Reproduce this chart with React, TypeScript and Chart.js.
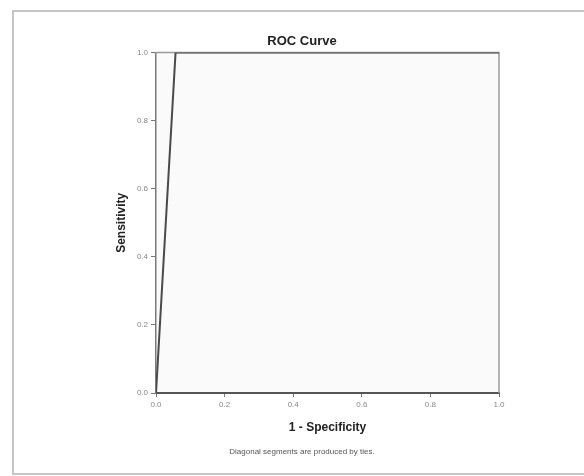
import React, { useEffect, useRef } from "react";
import { Chart, registerables } from "chart.js";

Chart.register(...registerables);

// ---- data ----
const fprValues = [0, 0.057, 1];
const tprValues = [0, 1, 1];
const tickStep = 0.2;
const chartTitle = "ROC Curve";
const xAxisTitle = "1 - Specificity";
const yAxisTitle = "Sensitivity";
const footnote = "Diagonal segments are produced by ties.";

const FONT = "'Liberation Sans', Arial, sans-serif";

const framePlugin = {
  id: "spssFrame",
  beforeDraw(chart: any) {
    const { ctx, chartArea: a } = chart;
    ctx.save();
    ctx.fillStyle = "#ffffff";
    ctx.fillRect(0, 0, chart.width, chart.height);
    ctx.strokeStyle = "#c6c6c6";
    ctx.lineWidth = 2;
    ctx.strokeRect(13, 11, 620, 463);
    ctx.fillStyle = "#fafafa";
    ctx.fillRect(a.left, a.top, a.right - a.left, a.bottom - a.top);
    ctx.restore();
  },
  beforeDatasetsDraw(chart: any) {
    const { ctx, chartArea: a } = chart;
    ctx.save();
    ctx.strokeStyle = "#9a9a9a";
    ctx.lineWidth = 1.5;
    ctx.beginPath();
    ctx.moveTo(a.left, a.top);
    ctx.lineTo(a.right, a.top);
    ctx.lineTo(a.right, a.bottom);
    ctx.stroke();
    ctx.restore();
  },
};

export default function App() {
  const ref = useRef<HTMLCanvasElement | null>(null);

  useEffect(() => {
    if (!ref.current) return;
    const data = fprValues.map((x, i) => ({ x, y: tprValues[i] }));
    const chart = new Chart(ref.current, {
      type: "scatter",
      data: {
        datasets: [
          {
            data,
            showLine: true,
            borderColor: "#4a4a4a",
            borderWidth: 2,
            pointRadius: 0,
            fill: false,
          },
        ],
      },
      options: {
        animation: false,
        responsive: false,
        layout: { padding: { top: 26, left: 105, right: 85, bottom: 14 } },
        plugins: {
          legend: { display: false },
          tooltip: { enabled: false },
          title: {
            display: true,
            text: chartTitle,
            color: "#222",
            font: { family: FONT, size: 13, weight: "bold" },
            padding: { top: 8, bottom: 3 },
          },
          subtitle: {
            display: true,
            position: "bottom",
            text: footnote,
            color: "#555",
            font: { family: FONT, size: 8 },
            padding: { top: 4, bottom: 5 },
          },
        },
        scales: {
          x: {
            type: "linear",
            min: 0,
            max: 1,
            ticks: {
              stepSize: tickStep,
              callback: (v: any) => Number(v).toFixed(1),
              color: "#888",
              font: { family: FONT, size: 8 },
              padding: 3,
              maxRotation: 0,
            },
            grid: { drawOnChartArea: false, drawTicks: true, tickLength: 4, color: "#777" },
            border: { color: "#555", width: 2 },
            title: {
              display: true,
              text: xAxisTitle,
              color: "#222",
              font: { family: FONT, size: 12, weight: "bold" },
              padding: { top: 0, bottom: 9 },
            },
            afterFit: (s: any) => {
              s.height = 50.4;
            },
          },
          y: {
            type: "linear",
            min: 0,
            max: 1,
            ticks: {
              stepSize: tickStep,
              callback: (v: any) => Number(v).toFixed(1),
              color: "#888",
              font: { family: FONT, size: 8 },
              padding: 3,
            },
            grid: { drawOnChartArea: false, drawTicks: true, tickLength: 5, color: "#777" },
            border: { color: "#7a7a7a", width: 1.5 },
            title: {
              display: true,
              text: yAxisTitle,
              color: "#222",
              font: { family: FONT, size: 12, weight: "bold" },
              padding: { top: 9, bottom: 0 },
            },
            afterFit: (s: any) => {
              s.width = 51;
            },
          },
        },
      } as any,
      plugins: [framePlugin],
    });
    return () => chart.destroy();
  }, []);

  return (
    <div style={{ position: "absolute", left: 0, top: 0, width: 584, height: 476 }}>
      <canvas ref={ref} width={584} height={476} />
    </div>
  );
}
